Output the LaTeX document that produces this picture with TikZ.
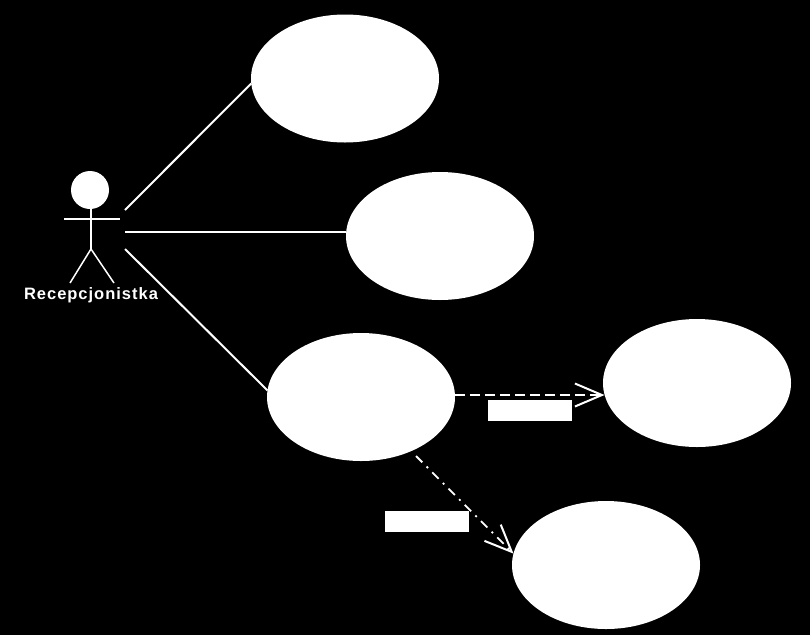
\documentclass[tikz,border=0pt]{standalone}
\usepackage{fontspec}
\setmainfont{Liberation Sans}
\usetikzlibrary{arrows.meta,shapes.geometric}
\tikzset{
  usecase/.style={ellipse,fill=white,draw=none,inner sep=0pt,outer sep=0pt,minimum width=188pt,minimum height=128pt},
  stickline/.style={draw=white,line width=1.5pt},
  assoc/.style={draw=white,line width=2pt},
  openhead/.style={-{Straight Barb[length=27pt,width=23pt,line width=2pt]}},
  includeflow/.style={assoc,openhead,dash pattern=on 10pt off 5pt},
  extendflow/.style={draw=white,line width=1.8pt,openhead,dash pattern=on 9pt off 6pt on 2pt off 6pt},
  stereotype/.style={fill=white,draw=none,inner sep=0pt,outer sep=0pt,minimum width=84pt,minimum height=21pt},
  actorhead/.style={circle,fill=white,draw=none,inner sep=0pt,outer sep=0pt,minimum size=38pt},
  actorlabel/.style={text=white,inner sep=0pt,font=\fontsize{16.5}{18}\selectfont\bfseries\addfontfeature{LetterSpace=6}}
}
\begin{document}
\begin{tikzpicture}[x=1pt,y=-1pt]
  % black page
  \fill[black] (0,0) rectangle (810,635);
  \useasboundingbox (0,0) rectangle (810,635);

  % use cases
  \node[usecase] (uc1) at (345,78.5) {};
  \node[usecase] (uc2) at (440,236) {};
  \node[usecase] (uc3) at (361,397) {};
  \node[usecase] (uc4) at (697,383) {};
  \node[usecase] (uc5) at (606,565) {};

  % receptionist figure
  \node[actorhead] (head) at (90,190) {};
  \coordinate (hip) at (91,249);
  \coordinate (armL) at (64,219);
  \coordinate (armR) at (120,219);
  \coordinate (footL) at (70,283);
  \coordinate (footR) at (114,283);
  \path[stickline] (hip |- head.south) -- (hip);
  \path[stickline] (armL) -- (armR);
  \path[stickline] (footL) -- (hip) -- (footR);
  \node[actorlabel] (actor) at (91,295) {Recepcjonistka};

  % associations from the figure to the use cases
  \coordinate (a1) at (125,210);
  \coordinate (a2) at (125,232);
  \coordinate (a3) at (125,249);
  \path[assoc] (a1) -- (uc1.183);
  \path[assoc] (a2) -- (uc2.177.5 |- a2);
  \path[assoc] (a3) -- (uc3.176);

  % dependencies between use cases
  \coordinate (d1) at (455,395);
  \coordinate (d2) at (416,456);
  \path[includeflow] (d1) -- (uc4.187 |- d1);
  \path[extendflow] (d2) -- (uc5.173);

  % blanked stereotype labels
  \node[stereotype] (s1) at (530,410.5) {};
  \node[stereotype] (s2) at (427,521.5) {};
\end{tikzpicture}
\end{document}
